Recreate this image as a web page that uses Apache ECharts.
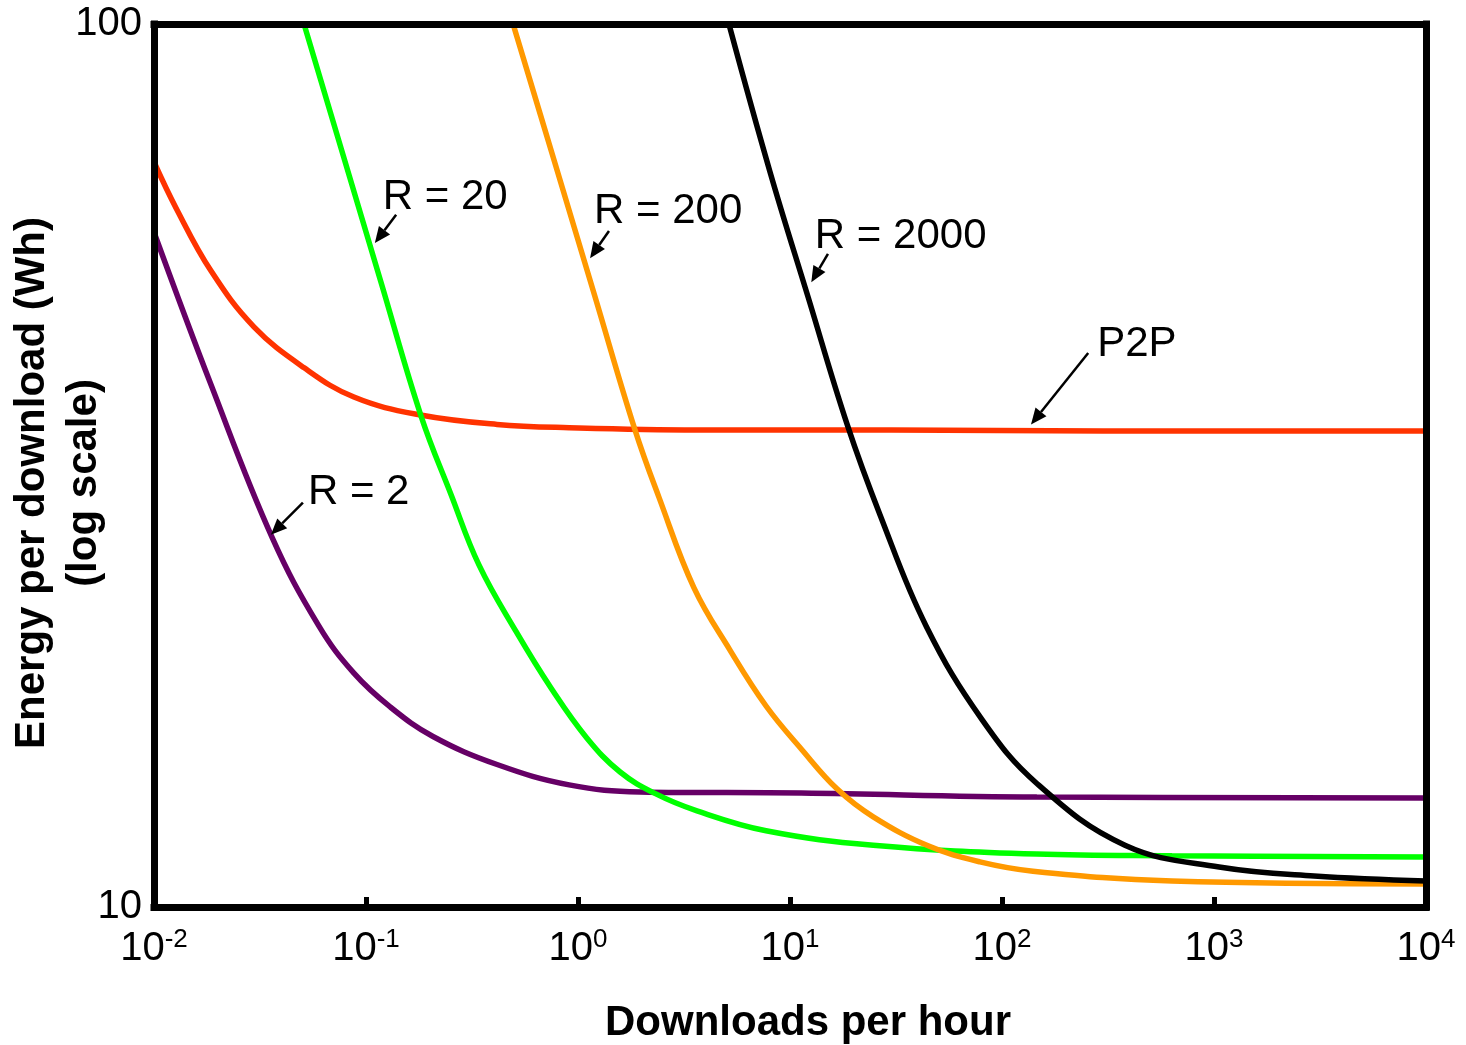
<!DOCTYPE html>
<html>
<head>
<meta charset="utf-8">
<script src="https://cdn.jsdelivr.net/npm/echarts@6/dist/echarts.min.js"></script>
<style>
  html, body { margin: 0; padding: 0; background: #ffffff; }
  #chart { width: 1466px; height: 1045px; }
</style>
</head>
<body>
<div id="chart"></div>
<script>
// Energy per download (Wh) against download rate, both on log scales.

// P2P distribution
const p2pX = [0.01, 0.0127, 0.0186, 0.0296, 0.0511, 0.0877, 0.178, 0.415, 0.908, 3.64, 30, 300, 3000, 10000];
const p2pY = [69.8, 61.9, 52.5, 45.4, 40.8, 37.8, 36.1, 35.2, 34.9, 34.7, 34.7, 34.6, 34.6, 34.6];

// Client/server, R = 2
const r2X = [0.01, 0.0186, 0.0361, 0.06, 0.0877, 0.130, 0.207, 0.415, 0.908, 1.96, 11.3, 146, 10000];
const r2Y = [58.1, 39.0, 26.2, 20.8, 18.4, 16.85, 15.6, 14.5, 13.75, 13.5, 13.46, 13.32, 13.29];

// R = 20
const r20X = [0.051, 0.0779, 0.1177, 0.1817, 0.252, 0.341, 0.511, 0.746, 1.10, 1.58, 2.33, 3.64, 7.71, 24.7, 146, 634, 10000];
const r20Y = [100, 71.1, 51.0, 36.0, 29.3, 24.4, 20.5, 17.7, 15.54, 14.22, 13.43, 12.85, 12.2, 11.75, 11.48, 11.43, 11.39];

// R = 200
const r200X = [0.494, 0.770, 1.203, 1.857, 2.41, 3.52, 5.21, 7.71, 11.3, 16.7, 24.7, 44.8, 78.7, 140, 634, 10000];
const r200Y = [100, 70.2, 49.1, 34.7, 29.1, 23.0, 19.54, 16.89, 15.1, 13.6, 12.65, 11.73, 11.25, 10.98, 10.70, 10.62];

// R = 2000
const r2000X = [5.15, 8.05, 12.16, 18.6, 26.6, 43.9, 80.5, 146, 380, 1057, 2965, 10000];
const r2000Y = [100, 68.0, 49.1, 35.2, 27.8, 20.8, 16.3, 13.8, 11.75, 11.1, 10.84, 10.7];

// Axis ranges / tick labels
const xExponents = [-2, -1, 0, 1, 2, 3, 4];
const yTicks = [10, 100];

// Callout texts with their anchor, arrow tail and arrow tip (data units)
const calloutText = ['R = 20', 'R = 200', 'R = 2000', 'P2P', 'R = 2'];
const calloutAt   = [[0.120, 63.7], [1.19, 61.4], [13.1, 57.5], [281, 43.4], [0.0532, 29.5]];
const arrowFrom   = [[0.1387, 60.8], [1.40, 58.3], [15.1, 54.9], [255, 42.4], [0.0504, 28.7]];
const arrowTo     = [[0.1101, 56.5], [1.14, 54.3], [12.6, 51.0], [137, 35.2], [0.0356, 26.4]];

const FONT = '"Liberation Sans", Arial, Helvetica, sans-serif';

function pairs(xs, ys) { return xs.map((x, i) => [x, ys[i]]); }

const curves = [
  { name: 'P2P',      x: p2pX,   y: p2pY,   color: '#ff3300' },
  { name: 'R = 2',    x: r2X,    y: r2Y,    color: '#660066' },
  { name: 'R = 20',   x: r20X,   y: r20Y,   color: '#00ff00' },
  { name: 'R = 200',  x: r200X,  y: r200Y,  color: '#ff9900' },
  { name: 'R = 2000', x: r2000X, y: r2000Y, color: '#000000' }
];

const frameLine = { show: true, lineStyle: { color: '#000', width: 7, cap: 'square' } };

const chart = echarts.init(document.getElementById('chart'), null, { renderer: 'canvas' });

chart.setOption({
  animation: false,
  backgroundColor: '#ffffff',
  grid: { left: 154, right: 40, top: 24, bottom: 138, containLabel: false, outerBoundsMode: 'none' },
  xAxis: [
    {
      type: 'log', logBase: 10, min: 0.01, max: 10000, position: 'bottom', z: 10,
      axisLine: frameLine,
      axisTick: { show: true, inside: true, length: 10, lineStyle: { color: '#000', width: 5 } },
      minorTick: { show: false },
      splitLine: { show: false },
      axisLabel: {
        margin: 20,
        formatter: function (v) {
          const e = Math.round(Math.log10(v));
          return xExponents.indexOf(e) >= 0 ? '{b|10}{s|' + e + '}' : '';
        },
        rich: {
          b: { fontSize: 40, fontFamily: FONT, color: '#000', lineHeight: 44 },
          s: { fontSize: 26, fontFamily: FONT, color: '#000', lineHeight: 26, verticalAlign: 'top' }
        }
      }
    },
    {
      type: 'log', logBase: 10, min: 0.01, max: 10000, position: 'top', z: 10,
      axisLine: frameLine, axisTick: { show: false }, axisLabel: { show: false }, splitLine: { show: false }
    }
  ],
  yAxis: [
    {
      type: 'log', logBase: 10, min: yTicks[0], max: yTicks[yTicks.length - 1], position: 'left', z: 10,
      axisLine: frameLine,
      axisTick: { show: false },
      splitLine: { show: false },
      axisLabel: { fontSize: 40, fontFamily: FONT, color: '#000', margin: 12 }
    },
    {
      type: 'log', logBase: 10, min: yTicks[0], max: yTicks[yTicks.length - 1], position: 'right', z: 10,
      axisLine: frameLine, axisTick: { show: false }, axisLabel: { show: false }, splitLine: { show: false }
    }
  ],
  series: curves.map((c, i) => ({
    name: c.name,
    type: 'line',
    xAxisIndex: 0,
    yAxisIndex: 0,
    data: pairs(c.x, c.y),
    showSymbol: false,
    symbol: 'none',
    smooth: 0.4,
    z: 2 + i,
    lineStyle: { color: c.color, width: 5.5 }
  }))
});

// Callouts and axis titles, placed through the chart's own coordinate conversion
const gfx = [];
calloutText.forEach((t, i) => {
  const p = chart.convertToPixel({ xAxisIndex: 0, yAxisIndex: 0 }, calloutAt[i]);
  const f = chart.convertToPixel({ xAxisIndex: 0, yAxisIndex: 0 }, arrowFrom[i]);
  const tip = chart.convertToPixel({ xAxisIndex: 0, yAxisIndex: 0 }, arrowTo[i]);
  const dx = tip[0] - f[0], dy = tip[1] - f[1];
  const len = Math.sqrt(dx * dx + dy * dy);
  const ux = dx / len, uy = dy / len;
  const headLen = 16, headHalf = 7;
  const bx = tip[0] - ux * headLen, by = tip[1] - uy * headLen;
  gfx.push({
    type: 'text', x: p[0], y: p[1], z: 20,
    style: { text: t, font: '42px ' + FONT, fill: '#000', textAlign: 'left', textVerticalAlign: 'middle' }
  });
  gfx.push({
    type: 'line', z: 20,
    shape: { x1: f[0], y1: f[1], x2: bx, y2: by },
    style: { stroke: '#000', lineWidth: 2.5 }
  });
  gfx.push({
    type: 'polygon', z: 20,
    shape: { points: [[tip[0], tip[1]], [bx - uy * headHalf, by + ux * headHalf], [bx + uy * headHalf, by - ux * headHalf]] },
    style: { fill: '#000' }
  });
});

gfx.push({
  type: 'text', x: 808, y: 1023, z: 20,
  style: { text: 'Downloads per hour', font: 'bold 42px ' + FONT, fill: '#000', textAlign: 'center', textVerticalAlign: 'middle' }
});
gfx.push({
  type: 'text', x: 58, y: 483, rotation: Math.PI / 2, z: 20,
  style: {
    text: 'Energy per download (Wh)\n(log scale)', font: 'bold 42px ' + FONT, lineHeight: 52,
    fill: '#000', textAlign: 'center', textVerticalAlign: 'middle'
  }
});

chart.setOption({ graphic: gfx });
</script>
</body>
</html>
